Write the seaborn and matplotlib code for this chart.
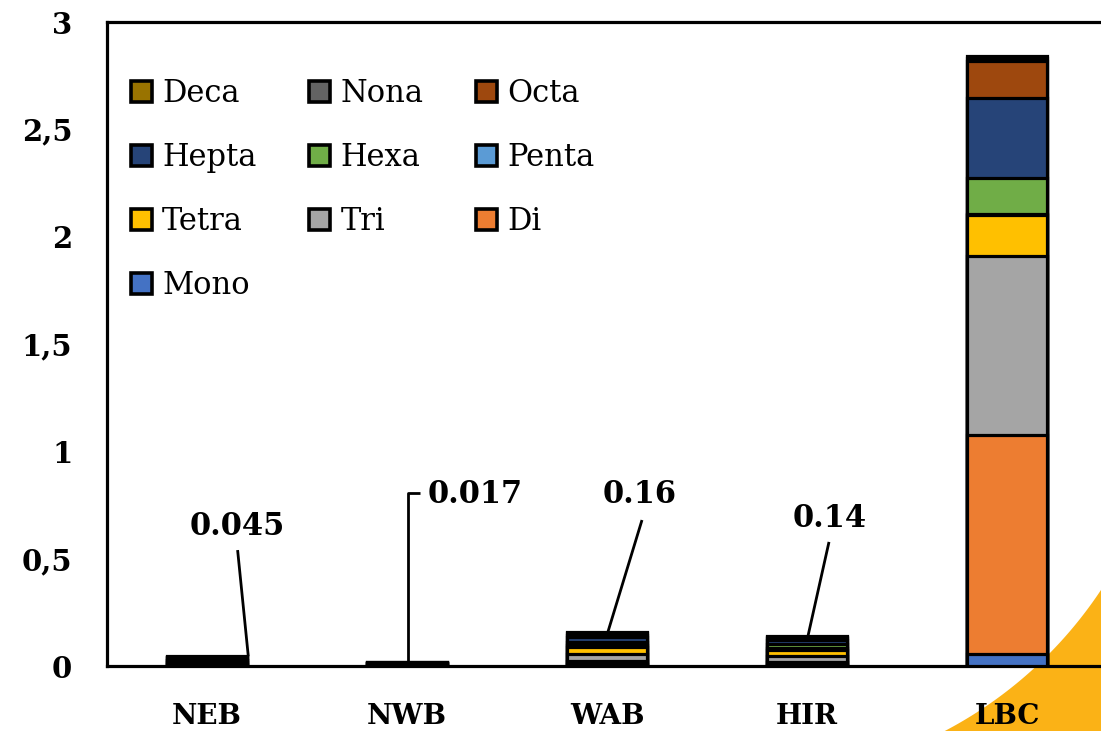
import numpy as np
import pandas as pd
import seaborn as sns
import matplotlib.pyplot as plt
from matplotlib.patches import Patch, Polygon
from matplotlib.ticker import FuncFormatter, MultipleLocator

sns.set_style("white")
plt.rcParams["font.family"] = ["DejaVu Serif"]
plt.rcParams["text.color"] = "black"
plt.rcParams["xtick.color"] = "black"
plt.rcParams["ytick.color"] = "black"

# Sites and homologue-group concentrations (stacked from Mono at the bottom to Deca on top)
categories = ["NEB", "NWB", "WAB", "HIR", "LBC"]
mono  = [0.002, 0.001, 0.008, 0.004, 0.054]
di    = [0.008, 0.004, 0.016, 0.014, 1.022]
tri   = [0.010, 0.004, 0.030, 0.030, 0.836]
tetra = [0.008, 0.003, 0.034, 0.026, 0.189]
penta = [0.002, 0.001, 0.010, 0.008, 0.005]
hexa  = [0.005, 0.001, 0.015, 0.020, 0.165]
hepta = [0.005, 0.001, 0.020, 0.018, 0.373]
octa  = [0.003, 0.001, 0.012, 0.010, 0.174]
nona  = [0.001, 0.0005, 0.008, 0.006, 0.015]
deca  = [0.001, 0.0005, 0.007, 0.004, 0.010]

# sites that carry a total-value callout
labelled_sites = ["NEB", "NWB", "WAB", "HIR"]

stack_order = ["Mono", "Di", "Tri", "Tetra", "Penta", "Hexa", "Hepta", "Octa", "Nona", "Deca"]
df = pd.DataFrame(
    {"Mono": mono, "Di": di, "Tri": tri, "Tetra": tetra, "Penta": penta,
     "Hexa": hexa, "Hepta": hepta, "Octa": octa, "Nona": nona, "Deca": deca},
    index=categories,
)[stack_order]
cum = df.cumsum(axis=1)
totals = df.sum(axis=1).round(4)

colors = {
    "Mono": "#4472C4", "Di": "#ED7D31", "Tri": "#A5A5A5", "Tetra": "#FFC000",
    "Penta": "#5B9BD5", "Hexa": "#70AD47", "Hepta": "#264478", "Octa": "#9E480E",
    "Nona": "#636363", "Deca": "#997300",
}

W, H = 1101, 731
fig = plt.figure(figsize=(W / 100, H / 100), dpi=100)
fig.patch.set_facecolor("white")

# corner accent behind the plot
cx, cy, r = 748, 375, 423.5
ang = np.radians(np.linspace(-64, -31, 80))
arc = np.column_stack([cx + r * np.cos(ang), cy + r * np.sin(ang)])
poly = np.vstack([arc, [[1200, arc[-1, 1]], [1200, -50], [arc[0, 0], -50]]])
poly = poly / np.array([W, H])
fig.patches.append(Polygon(poly, closed=True, transform=fig.transFigure,
                           facecolor="#FBB216", edgecolor="none", zorder=-5))

ax = fig.add_axes([107 / W, 1 - 666 / H, 1000 / W, (666 - 22) / H])
ax.set_facecolor("none")

edge_lw = 2.3
for name in reversed(stack_order):
    sns.barplot(x=categories, y=cum[name].values, color=colors[name], saturation=1,
                edgecolor="black", linewidth=edge_lw, width=0.40, ax=ax, zorder=3)

ax.set_xlim(-0.5, 4.5)
ax.set_ylim(0, 3)
ax.yaxis.set_major_locator(MultipleLocator(0.5))
ax.yaxis.set_major_formatter(FuncFormatter(lambda v, p: f"{v:g}".replace(".", ",")))
ax.tick_params(axis="y", length=0, pad=25, labelsize=21, labelcolor="black")
ax.tick_params(axis="x", length=0, pad=27, labelsize=20, labelcolor="black")
for lab in ax.get_xticklabels() + ax.get_yticklabels():
    lab.set_fontweight("bold")
ax.set_xlabel("")
ax.set_ylabel("")
ax.grid(False)
for side in ["left", "top", "bottom"]:
    ax.spines[side].set_visible(True)
    ax.spines[side].set_color("black")
    ax.spines[side].set_linewidth(edge_lw)
ax.spines["right"].set_visible(False)

# total-value callouts with leader lines
text_pos = {"NEB": (0.1525, 0.648, "center"), "NWB": (1.105, 0.797, "left"),
            "WAB": (2.165, 0.797, "center"), "HIR": (3.115, 0.689, "center")}
leader = {"NEB": [(0.153, 0.540), (0.2065, None)],
          "NWB": [(1.065, 0.806), (1.005, 0.806), (1.005, None)],
          "WAB": [(2.175, 0.680), (2.005, None)],
          "HIR": [(3.110, 0.578), (3.005, None)]}
for site in labelled_sites:
    tot = totals[site]
    tx, ty, ha = text_pos[site]
    ax.text(tx, ty, f"{tot:g}", ha=ha, va="center", fontsize=22, fontweight="bold",
            color="black", zorder=6)
    pts = [(x, tot if y is None else y) for x, y in leader[site]]
    ax.plot([p[0] for p in pts], [p[1] for p in pts], color="black", lw=2.0,
            solid_capstyle="butt", zorder=5)

# legend laid out row by row: Deca Nona Octa / Hepta Hexa Penta / Tetra Tri Di / Mono
legend_order = ["Deca", "Hepta", "Tetra", "Mono", "Nona", "Hexa", "Tri", "Octa", "Penta", "Di"]
handles = [Patch(facecolor=colors[n], edgecolor="black", linewidth=2.6, label=n)
           for n in legend_order]
leg = ax.legend(handles=handles, ncol=3, loc="upper left", frameon=False,
                bbox_to_anchor=(131 / W, 1 - 78 / H), bbox_transform=fig.transFigure,
                fontsize=22, handlelength=0.69, handleheight=0.69, handletextpad=0.33,
                labelspacing=1.08, columnspacing=1.72, borderpad=0, borderaxespad=0)
for t in leg.get_texts():
    t.set_color("black")

fig.savefig("out.png", dpi=100)
